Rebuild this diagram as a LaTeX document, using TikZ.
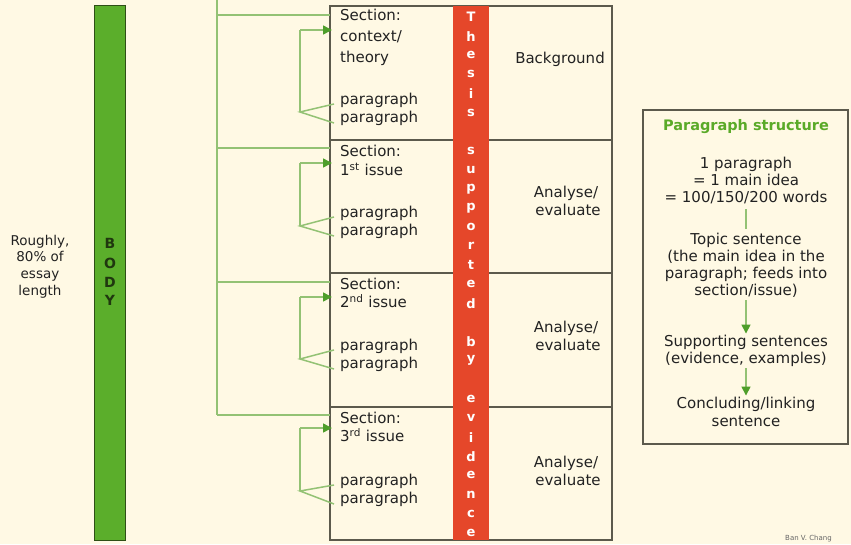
\documentclass[tikz,border=0pt]{standalone}
\usepackage{fontspec}
\setmainfont{DejaVu Sans}
\usetikzlibrary{arrows.meta,calc}
\definecolor{bgc}{HTML}{FFF9E4}
\definecolor{barg}{HTML}{5BAE2B}
\definecolor{bargd}{HTML}{2E4F16}
\definecolor{redb}{HTML}{E5472A}
\definecolor{lineg}{HTML}{93C274}
\definecolor{arrg}{HTML}{4E9E2A}
\definecolor{boxl}{HTML}{5C5A4C}
\definecolor{txtc}{HTML}{222222}
\definecolor{titleg}{HTML}{5AAA28}
\tikzset{
  lt/.style={font=\fontsize{15}{18}\selectfont, text=txtc, inner sep=0pt, anchor=west, text height=11pt, text depth=3.5pt},
  ct/.style={font=\fontsize{15}{18}\selectfont, text=txtc, inner sep=0pt, anchor=center, text height=11pt, text depth=3.5pt},
  conn/.style={draw=lineg, line width=1.5pt},
  arr/.style={conn, -{Triangle[length=9pt,width=9pt,fill=arrg,color=arrg]}},
  grid/.style={draw=boxl, line width=1.4pt},
  redl/.style={font=\bfseries\fontsize{13}{15}\selectfont, text=white, inner sep=0pt, anchor=center},
  bodyl/.style={font=\bfseries\fontsize{14}{16}\selectfont, text=bargd!70!black, inner sep=0pt, anchor=center},
  ll/.style={ct, font=\fontsize{13.5}{16}\selectfont},
}
\begin{document}
\begin{tikzpicture}[x=1pt,y=-1pt]
\useasboundingbox (0,0) rectangle (851,544);
\fill[bgc] (0,0) rectangle (851,544);

% BODY bar
\node[draw=bargd, line width=1.4pt, fill=barg, minimum width=31pt, minimum height=535pt, inner sep=0pt, anchor=north west] (bodybar) at (94,5) {};
\foreach \ch/\yy [count=\i] in {B/243,O/263,D/282,Y/300}
  \node[bodyl] (body\i) at (110,\yy) {\ch};

% left label
\node[ll] (l1) at (40,242) {Roughly,};
\node[ll] (l2) at (40,258) {80\% of};
\node[ll] (l3) at (40,275) {essay};
\node[ll] (l4) at (40,292) {length};

% grid
\draw[grid] (330,6) rectangle (612,540);
\foreach \yy in {140,273,407} \draw[grid] (330,\yy) -- (612,\yy);
\node[fill=redb, minimum width=36pt, minimum height=534pt, inner sep=0pt, anchor=north west] (redbar) at (453,6) {};
\foreach \ch [count=\i from 0] in {T,h,e,s,i,s,{},s,u,p,p,o,r,t,e,d,{},b,y,{},e,v,i,d,e,n,c,e}
  \node[redl] (r\i) at (471,{17+19.1*\i}) {\ch};

% main connector spine
\coordinate (top) at (217,0);
\coordinate (j1) at (217,15);
\coordinate (j2) at (217,148);
\coordinate (j3) at (217,282);
\coordinate (j4) at (217,415);
\draw[conn] (top) -- (j4);
\coordinate (e1) at (330,15);
\coordinate (e2) at (330,148);
\coordinate (e3) at (330,282);
\coordinate (e4) at (330,415);
\foreach \i in {1,2,3,4} \draw[conn] (j\i) -- (e\i);

% section texts
\node[lt] (s1a) at (340,17) {Section:};
\node[lt] (s1b) at (340,38) {context/};
\node[lt] (s1c) at (340,59) {theory};
\node[lt] (p1a) at (340,101) {paragraph};
\node[lt] (p1b) at (340,119) {paragraph};
\node[ct] (bg1) at (560,60) {Background};

\node[lt] (s2a) at (340,153) {Section:};
\node[lt] (s2b) at (340,172) {1\textsuperscript{st} issue};
\node[lt] (p2a) at (340,214) {paragraph};
\node[lt] (p2b) at (340,232) {paragraph};
\node[ct] (an2a) at (566,194) {Analyse/};
\node[ct] (an2b) at (568,212) {evaluate};

\node[lt] (s3a) at (340,286) {Section:};
\node[lt] (s3b) at (340,304) {2\textsuperscript{nd} issue};
\node[lt] (p3a) at (340,347) {paragraph};
\node[lt] (p3b) at (340,365) {paragraph};
\node[ct] (an3a) at (566,329) {Analyse/};
\node[ct] (an3b) at (568,347) {evaluate};

\node[lt] (s4a) at (340,420) {Section:};
\node[lt] (s4b) at (340,438) {3\textsuperscript{rd} issue};
\node[lt] (p4a) at (340,482) {paragraph};
\node[lt] (p4b) at (340,500) {paragraph};
\node[ct] (an4a) at (566,464) {Analyse/};
\node[ct] (an4b) at (568,482) {evaluate};

% brackets
\foreach \i/\ya/\yb in {1/30/112, 2/163/226, 3/297/359, 4/428/491} {
  \coordinate (bt\i) at (300,\ya);
  \coordinate (bb\i) at (300,\yb);
  \coordinate (bs\i) at (332,\ya);
  \draw[conn] (bb\i) -- (bt\i);
  \draw[arr] (bt\i) -- (bs\i);
  \draw[conn] ($(p\i a.west)+(-6,3)$) -- (bb\i) -- ($(p\i b.west)+(-6,4)$);
}

% paragraph structure box
\draw[draw=boxl, line width=1.6pt] (643,110) rectangle (848,444);
\node[ct, font=\bfseries\fontsize{14.5}{17}\selectfont, text=titleg] (ps) at (746,127) {Paragraph structure};
\node[ct] (q1) at (746,165) {1 paragraph};
\node[ct] (q2) at (746,182) {= 1 main idea};
\node[ct] (q3) at (746,199) {= 100/150/200 words};
\node[ct] (t1) at (746,241) {Topic sentence};
\node[ct] (t2) at (746,258) {(the main idea in the};
\node[ct] (t3) at (746,275) {paragraph; feeds into};
\node[ct] (t4) at (746,292) {section/issue)};
\node[ct] (u1) at (746,343) {Supporting sentences};
\node[ct] (u2) at (746,360) {(evidence, examples)};
\node[ct] (c1) at (746,405) {Concluding/linking};
\node[ct] (c2) at (746,423) {sentence};
\draw[conn] ($(q3.south)+(0,3)$) -- ($(t1.north)+(0,-5)$);
\draw[arr] ($(t4.south)+(0,1)$) -- ($(u1.north)+(0,-2)$);
\draw[arr] ($(u2.south)+(0,1)$) -- ($(c1.north)+(0,-2)$);

% credit
\node[font=\fontsize{7}{8}\selectfont, text=gray!80!black, inner sep=0pt, anchor=west] (credit) at (785,539) {Ban V. Chang};
\end{tikzpicture}
\end{document}
